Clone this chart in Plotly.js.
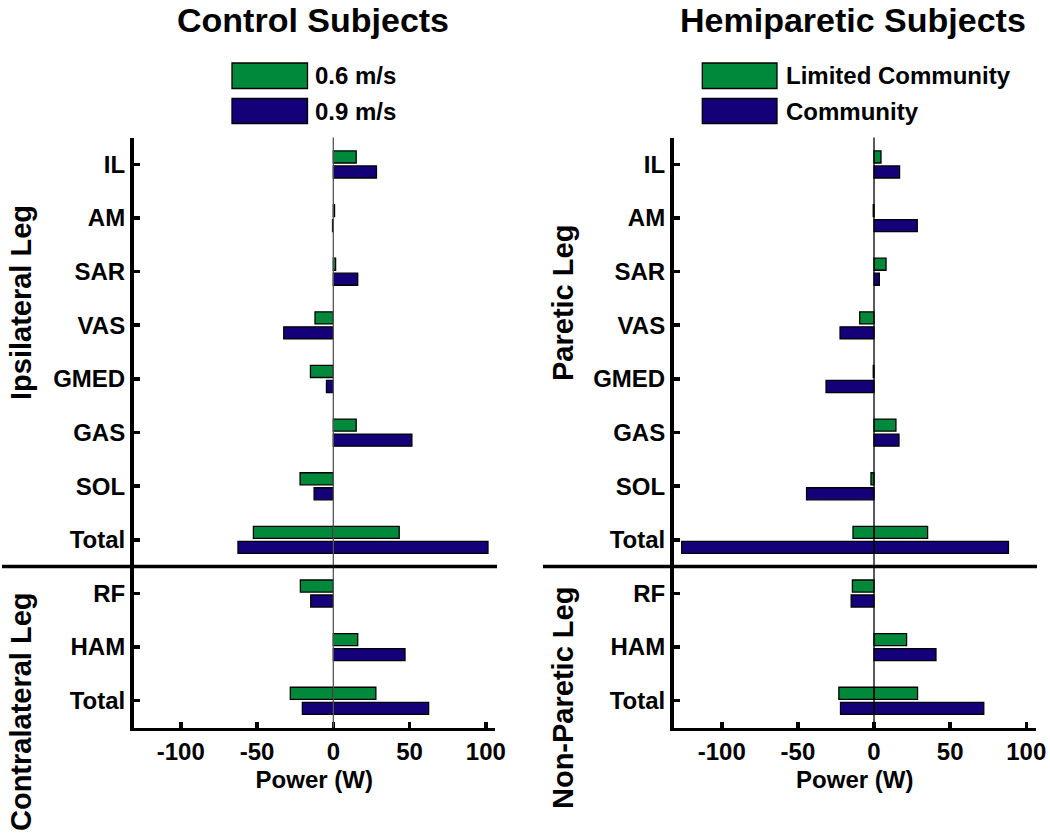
<!DOCTYPE html>
<html><head><meta charset="utf-8">
<script src="https://cdn.plot.ly/plotly-3.0.1.min.js"></script>
<style>html,body{margin:0;padding:0;background:#fff}#chart{width:1050px;height:834px}</style>
</head><body><div id="chart"></div><script>
// ---- data ----
const muscles = ['IL','AM','SAR','VAS','GMED','GAS','SOL','Total','RF','HAM','Total'];
const panelTitles = ['Control Subjects','Hemiparetic Subjects'];
const ctrlSeries = ['0.6 m/s','0.9 m/s'];
const hemiSeries = ['Limited Community','Community'];
const sideLabelsCtrl = ['Ipsilateral Leg','Contralateral Leg'];
const sideLabelsHemi = ['Paretic Leg','Non-Paretic Leg'];
const xTicks = [-100,-50,0,50,100];
const xTickLabels = ['-100','-50','0','50','100'];
const xTitle = 'Power (W)';
// Power (W). For the two "Total" rows the positive part is in the main array,
// the negative part in the *_neg array.
const ctrl06     = [15, 0.8, 1.5, -12, -15, 15, -21.8, 43.2, -21.6, 16, 27.9];
const ctrl06_neg = [null,null,null,null,null,null,null,-52.4,null,null,-28.2];
const ctrl09     = [28.3, -0.5, 16, -32.5, -4.5, 51.5, -12.6, 101.4, -14.8, 47, 62.5];
const ctrl09_neg = [null,null,null,null,null,null,null,-62.5,null,null,-20.3];
const hemiLim     = [4.6, -0.5, 7.9, -9.4, -0.5, 14.4, -2, 35.2, -14.2, 21.4, 28.6];
const hemiLim_neg = [null,null,null,null,null,null,null,-13.8,null,null,-23.1];
const hemiCom     = [16.8, 28.4, 3.5, -22.3, -31.5, 16.4, -44.3, 88.3, -15, 40.7, 72.1];
const hemiCom_neg = [null,null,null,null,null,null,null,-126.3,null,null,-22];

// ---- style ----
const GREEN = '#00893A', BLUE = '#140078';
const FONT = 'Liberation Sans, Arial, Helvetica, sans-serif';
const W = 1050, H = 834;
const px = v => v / W, py = v => 1 - v / H;
const idx = muscles.map((_, i) => i);

function bar(vals, color, xa, ya, offset) {
  return {type:'bar', orientation:'h', x: vals, y: idx, xaxis: xa, yaxis: ya,
    offset: offset, width: 0.225,
    marker:{color: color, line:{color:'#000', width:1.3}},
    showlegend:false, hoverinfo:'skip'};
}
const OFF_G = -0.25, OFF_B = 0.03;
const traces = [
  bar(ctrl06, GREEN, 'x', 'y', OFF_G), bar(ctrl06_neg, GREEN, 'x', 'y', OFF_G),
  bar(ctrl09, BLUE, 'x', 'y', OFF_B),  bar(ctrl09_neg, BLUE, 'x', 'y', OFF_B),
  bar(hemiLim, GREEN, 'x2', 'y2', OFF_G), bar(hemiLim_neg, GREEN, 'x2', 'y2', OFF_G),
  bar(hemiCom, BLUE, 'x2', 'y2', OFF_B),  bar(hemiCom_neg, BLUE, 'x2', 'y2', OFF_B)
];

const tickFont = {family: FONT, size: 24, color:'#000', weight:'bold'};
function xAxis(domain, range, anchor) {
  return {domain: domain, range: range, anchor: anchor, showline:true, linewidth:3.5, linecolor:'#000',
    ticks:'inside', ticklen:6, tickwidth:3.5, tickcolor:'#000', tickvals: xTicks, ticktext: xTickLabels,
    tickfont: tickFont, showgrid:false, zeroline:false, fixedrange:true,
    title:{text: xTitle, font:{family: FONT, size: 24, color:'#000', weight:'bold'}, standoff: 8}};
}
function yAxis(anchor) {
  return {domain:[1 - 727.5/H, 1 - 137.5/H], range:[10.5, -0.5], anchor: anchor,
    showline:true, linewidth:3.5, linecolor:'#000', ticks:'inside', ticklen:6, tickwidth:3.5,
    tickcolor:'#000', tickvals: idx, ticktext: muscles, tickfont: tickFont,
    showgrid:false, zeroline:false, fixedrange:true};
}

const shapes = [
  {type:'line', xref:'x', yref:'y domain', x0:0, x1:0, y0:0, y1:1, layer:'above', line:{color:'#555', width:1.3}},
  {type:'line', xref:'x2', yref:'y2 domain', x0:0, x1:0, y0:0, y1:1, layer:'above', line:{color:'#000', width:1.3}},
  {type:'line', xref:'paper', yref:'y', x0:px(2), x1:px(497), y0:7.5, y1:7.5, layer:'above', line:{color:'#000', width:3.5}},
  {type:'line', xref:'paper', yref:'y2', x0:px(543), x1:px(1037), y0:7.5, y1:7.5, layer:'above', line:{color:'#000', width:3.5}},
  // legend swatches
  {type:'rect', xref:'paper', yref:'paper', x0:px(232), x1:px(307.5), y0:py(63), y1:py(88.5), fillcolor:GREEN, line:{color:'#000', width:1.3}},
  {type:'rect', xref:'paper', yref:'paper', x0:px(232), x1:px(307.5), y0:py(98.5), y1:py(123.5), fillcolor:BLUE, line:{color:'#000', width:1.3}},
  {type:'rect', xref:'paper', yref:'paper', x0:px(702.3), x1:px(777), y0:py(63), y1:py(88.5), fillcolor:GREEN, line:{color:'#000', width:1.3}},
  {type:'rect', xref:'paper', yref:'paper', x0:px(702.3), x1:px(777), y0:py(98.5), y1:py(123.5), fillcolor:BLUE, line:{color:'#000', width:1.3}}
];

const bold = (size) => ({family: FONT, size: size, color:'#000', weight:'bold'});
function ann(text, x, y, size, xanchor, angle) {
  return {text: text, xref:'paper', yref:'paper', x: px(x), y: py(y), xanchor: xanchor || 'center',
    yanchor:'middle', showarrow:false, font: bold(size), textangle: angle || 0};
}
const annotations = [
  ann(panelTitles[0], 312.5, 20, 34), ann(panelTitles[1], 852.5, 20, 34),
  ann(ctrlSeries[0], 313, 76, 24, 'left'), ann(ctrlSeries[1], 313, 111, 24, 'left'),
  ann(hemiSeries[0], 784, 76, 24, 'left'), ann(hemiSeries[1], 784, 111, 24, 'left'),
  ann(sideLabelsCtrl[0], 21, 303, 29, 'center', -90), ann(sideLabelsCtrl[1], 21, 712, 29, 'center', -90),
  ann(sideLabelsHemi[0], 563, 303, 29, 'center', -90), ann(sideLabelsHemi[1], 563, 698, 29, 'center', -90)
];

const layout = {
  width: W, height: H, margin:{l:0, r:0, t:0, b:0}, paper_bgcolor:'#fff', plot_bgcolor:'rgba(0,0,0,0)',
  barmode:'overlay', showlegend:false, font:{family: FONT, color:'#000'},
  xaxis: xAxis([px(133.5), px(495)], [-131, 106], 'y'),
  yaxis: yAxis('x'),
  xaxis2: xAxis([px(673.5), px(1036)], [-131.7, 106.4], 'y2'),
  yaxis2: yAxis('x2'),
  shapes: shapes, annotations: annotations
};
Plotly.newPlot('chart', traces, layout, {displayModeBar:false, staticPlot:true});
</script></body></html>
